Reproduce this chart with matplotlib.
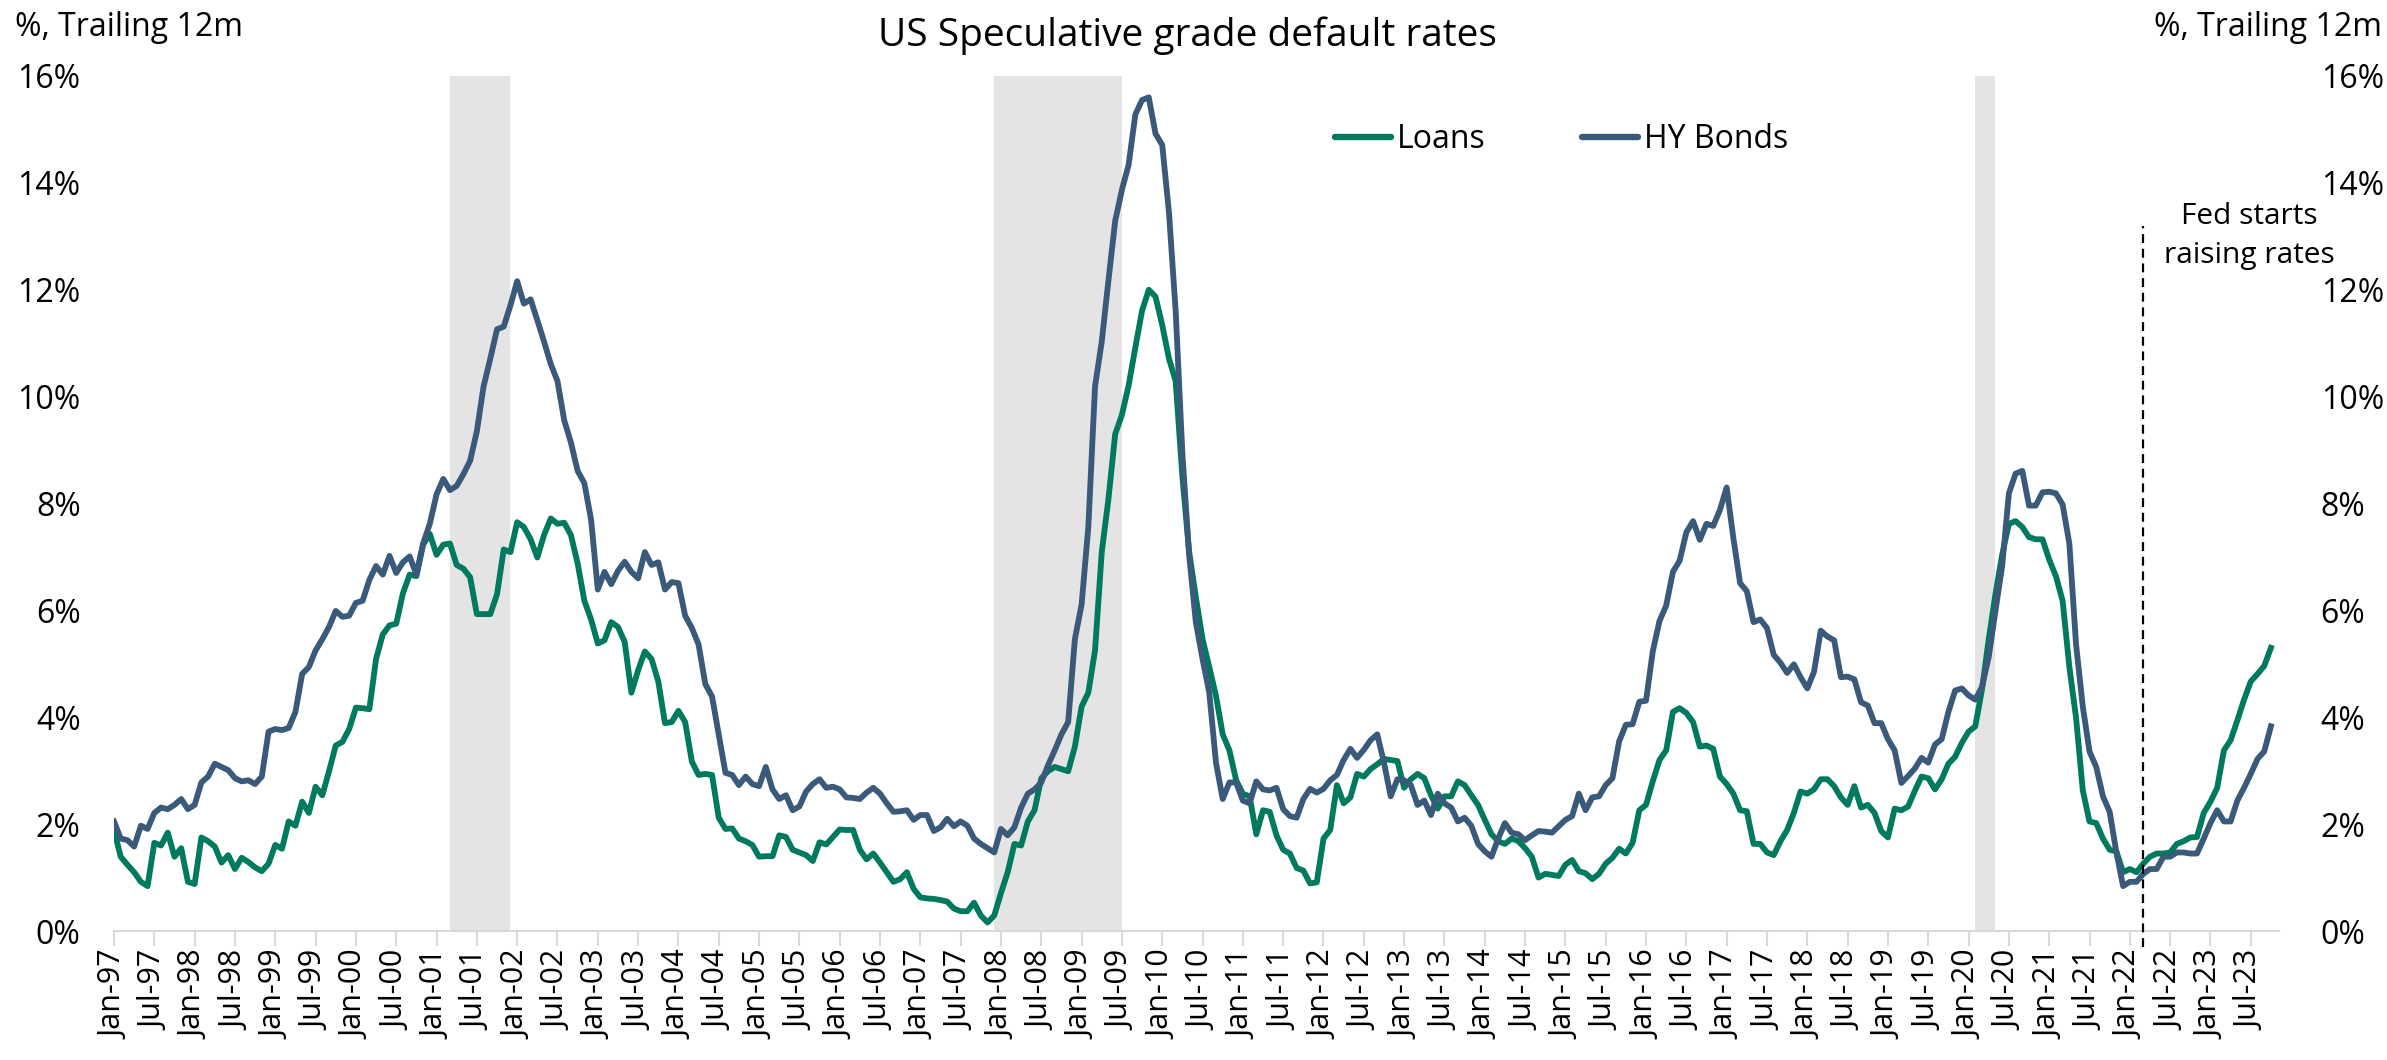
import matplotlib
matplotlib.use("Agg")
import matplotlib.pyplot as plt
import pandas as pd

plt.rcParams['font.family'] = ['Open Sans', 'DejaVu Sans']

# monthly data, Jan-97 onwards (%, trailing 12m)
start_month = "1997-01-01"

hy_bonds = [
    2.05, 1.73, 1.70, 1.58, 1.97, 1.91, 2.21, 2.31, 2.28, 2.36, 2.47, 2.28,
    2.36, 2.78, 2.89, 3.13, 3.07, 3.01, 2.86, 2.80, 2.82, 2.75, 2.89, 3.73,
    3.78, 3.76, 3.80, 4.10, 4.81, 4.94, 5.25, 5.46, 5.69, 5.99, 5.88, 5.90,
    6.14, 6.18, 6.57, 6.83, 6.67, 7.02, 6.70, 6.90, 7.01, 6.67, 7.25, 7.62,
    8.17, 8.46, 8.25, 8.33, 8.55, 8.80, 9.35, 10.19, 10.71, 11.26, 11.31, 11.71,
    12.16, 11.74, 11.82, 11.43, 11.03, 10.61, 10.29, 9.56, 9.14, 8.61, 8.38, 7.70,
    6.39, 6.72, 6.49, 6.74, 6.91, 6.72, 6.60, 7.09, 6.85, 6.90, 6.39, 6.53,
    6.51, 5.90, 5.67, 5.36, 4.62, 4.39, 3.68, 2.96, 2.92, 2.73, 2.89, 2.75,
    2.71, 3.07, 2.65, 2.47, 2.54, 2.26, 2.33, 2.61, 2.75, 2.84, 2.68, 2.70,
    2.65, 2.50, 2.49, 2.47, 2.59, 2.68, 2.57, 2.39, 2.23, 2.24, 2.26, 2.08,
    2.17, 2.17, 1.87, 1.94, 2.10, 1.96, 2.05, 1.97, 1.73, 1.63, 1.55, 1.47,
    1.91, 1.79, 1.94, 2.31, 2.57, 2.65, 2.78, 3.10, 3.38, 3.68, 3.91, 5.46,
    6.11, 7.56, 10.19, 11.03, 12.18, 13.29, 13.87, 14.34, 15.28, 15.55, 15.60, 14.92,
    14.71, 13.45, 11.60, 8.93, 7.04, 5.78, 5.09, 4.46, 3.15, 2.47, 2.78, 2.78,
    2.44, 2.39, 2.80, 2.65, 2.63, 2.68, 2.28, 2.15, 2.12, 2.47, 2.66, 2.59,
    2.66, 2.82, 2.92, 3.20, 3.41, 3.24, 3.39, 3.57, 3.68, 3.15, 2.52, 2.84,
    2.82, 2.73, 2.36, 2.44, 2.17, 2.57, 2.39, 2.31, 2.05, 2.12, 1.97, 1.63,
    1.49, 1.39, 1.73, 2.02, 1.84, 1.81, 1.70, 1.79, 1.87, 1.86, 1.84, 1.96,
    2.08, 2.15, 2.57, 2.26, 2.50, 2.52, 2.73, 2.86, 3.55, 3.86, 3.87, 4.29,
    4.31, 5.23, 5.80, 6.09, 6.72, 6.93, 7.46, 7.67, 7.32, 7.62, 7.58, 7.88,
    8.30, 7.35, 6.51, 6.36, 5.78, 5.83, 5.67, 5.17, 5.02, 4.83, 4.99, 4.75,
    4.54, 4.85, 5.62, 5.51, 5.44, 4.75, 4.76, 4.71, 4.28, 4.22, 3.89, 3.89,
    3.59, 3.38, 2.77, 2.90, 3.04, 3.24, 3.15, 3.49, 3.59, 4.10, 4.50, 4.54,
    4.41, 4.33, 4.57, 5.13, 5.99, 6.83, 8.19, 8.56, 8.61, 7.96, 7.96, 8.21,
    8.22, 8.19, 7.98, 7.25, 5.36, 4.20, 3.36, 3.07, 2.52, 2.23, 1.47, 0.84,
    0.92, 0.92, 1.07, 1.16, 1.16, 1.39, 1.39, 1.47, 1.47, 1.45, 1.45, 1.73,
    2.02, 2.26, 2.05, 2.05, 2.44, 2.68, 2.94, 3.22, 3.36, 3.83,
]

loans = [
    1.89, 1.39, 1.24, 1.10, 0.92, 0.84, 1.65, 1.60, 1.84, 1.39, 1.55, 0.92,
    0.88, 1.75, 1.68, 1.58, 1.28, 1.42, 1.16, 1.37, 1.29, 1.19, 1.12, 1.26,
    1.61, 1.54, 2.05, 1.97, 2.42, 2.21, 2.70, 2.54, 2.99, 3.47, 3.54, 3.78,
    4.18, 4.17, 4.15, 5.09, 5.55, 5.72, 5.75, 6.32, 6.67, 6.64, 7.23, 7.43,
    7.04, 7.23, 7.25, 6.85, 6.78, 6.62, 5.93, 5.93, 5.93, 6.30, 7.14, 7.09,
    7.65, 7.56, 7.33, 6.99, 7.41, 7.72, 7.62, 7.64, 7.41, 6.88, 6.18, 5.83,
    5.38, 5.44, 5.78, 5.69, 5.41, 4.46, 4.88, 5.23, 5.09, 4.67, 3.89, 3.91,
    4.12, 3.91, 3.17, 2.92, 2.94, 2.92, 2.12, 1.91, 1.92, 1.73, 1.68, 1.61,
    1.39, 1.40, 1.40, 1.79, 1.76, 1.52, 1.47, 1.42, 1.31, 1.66, 1.62, 1.76,
    1.90, 1.89, 1.89, 1.52, 1.34, 1.45, 1.28, 1.10, 0.92, 0.97, 1.10, 0.79,
    0.63, 0.61, 0.60, 0.58, 0.55, 0.42, 0.37, 0.37, 0.53, 0.29, 0.16, 0.29,
    0.71, 1.10, 1.63, 1.60, 2.05, 2.26, 2.86, 2.99, 3.07, 3.03, 2.99, 3.45,
    4.20, 4.46, 5.25, 7.09, 8.09, 9.30, 9.66, 10.21, 10.92, 11.61, 12.00, 11.87,
    11.34, 10.71, 10.29, 8.50, 7.10, 6.25, 5.46, 4.94, 4.40, 3.68, 3.38, 2.82,
    2.57, 2.52, 1.81, 2.26, 2.23, 1.79, 1.52, 1.45, 1.18, 1.13, 0.89, 0.91,
    1.73, 1.89, 2.73, 2.39, 2.50, 2.94, 2.89, 3.03, 3.12, 3.22, 3.20, 3.18,
    2.68, 2.84, 2.94, 2.86, 2.54, 2.29, 2.52, 2.52, 2.80, 2.73, 2.54, 2.36,
    2.08, 1.81, 1.68, 1.63, 1.73, 1.68, 1.55, 1.39, 1.00, 1.07, 1.05, 1.03,
    1.24, 1.33, 1.12, 1.08, 0.97, 1.07, 1.26, 1.37, 1.54, 1.45, 1.65, 2.26,
    2.36, 2.80, 3.20, 3.38, 4.10, 4.17, 4.08, 3.91, 3.45, 3.47, 3.41, 2.89,
    2.75, 2.57, 2.26, 2.24, 1.63, 1.63, 1.47, 1.42, 1.68, 1.89, 2.21, 2.61,
    2.57, 2.65, 2.84, 2.84, 2.71, 2.50, 2.36, 2.71, 2.31, 2.36, 2.21, 1.87,
    1.75, 2.29, 2.26, 2.33, 2.62, 2.89, 2.86, 2.65, 2.84, 3.13, 3.26, 3.52,
    3.73, 3.83, 4.52, 5.46, 6.30, 7.04, 7.62, 7.67, 7.56, 7.37, 7.33, 7.33,
    6.95, 6.64, 6.18, 4.94, 3.99, 2.63, 2.05, 2.02, 1.73, 1.52, 1.49, 1.10,
    1.16, 1.10, 1.26, 1.39, 1.45, 1.45, 1.47, 1.63, 1.68, 1.75, 1.76, 2.21,
    2.42, 2.68, 3.38, 3.57, 3.94, 4.33, 4.67, 4.81, 4.96, 5.30,
]

# recessions (first month, last month)
recessions = [("2001-03", "2001-11"), ("2007-12", "2009-06"), ("2020-02", "2020-04")]
fed_hike = "2022-03"
fed_text = "Fed starts\nraising rates"

title = "US Speculative grade default rates"
unit_label = "%, Trailing 12m"

loans_color = "#007A5E"
hy_color = "#3A5A7B"
band_color = "#E4E4E4"

dates = pd.date_range(start_month, periods=len(hy_bonds), freq="MS")
x = list(range(len(dates)))


def month_idx(s):
    d = pd.Timestamp(s + "-01")
    return (d.year - dates[0].year) * 12 + d.month - dates[0].month


W, H = 2387, 1060
fig = plt.figure(figsize=(W / 100, H / 100), dpi=100)
ax = fig.add_axes([114 / W, 1 - 931 / H, (2279 - 114) / W, (931 - 76) / H])

for a, b in recessions:
    ax.axvspan(month_idx(a), month_idx(b) + 1, color=band_color, lw=0, zorder=0)

ax.plot(x, loans, color=loans_color, lw=4.2, label="Loans", zorder=3)
ax.plot(x, hy_bonds, color=hy_color, lw=4.2, label="HY Bonds", zorder=3)

fx = month_idx(fed_hike)
ax.vlines(fx, -0.3, 13.2, colors="black", lw=1.6, linestyles=(0, (4, 2.6)),
          clip_on=False, zorder=4)
ax.text(fx + 15.8, 13.0, fed_text, ha="center", va="center", fontsize=21.5,
        linespacing=1.45)

ax.set_xlim(0, len(x) + 0.2)
ax.set_ylim(0, 16)
ticks = x[::6]
ax.set_xticks(ticks)
ax.set_xticklabels([dates[i].strftime("%b-%y") for i in ticks], rotation=90,
                   fontsize=22)
ax.set_yticks(range(0, 17, 2))
ax.set_yticklabels([f"{v}%" for v in range(0, 17, 2)], fontsize=23)
ax.tick_params(axis="x", length=11, width=1.5, color="#D9D9D9", pad=3)
ax.tick_params(axis="y", length=0, pad=24)
for s in ["top", "left", "right"]:
    ax.spines[s].set_visible(False)
ax.spines["bottom"].set_color("#D9D9D9")
ax.spines["bottom"].set_linewidth(1.5)

ax2 = ax.twinx()
ax2.set_ylim(ax.get_ylim())
ax2.set_yticks(range(0, 17, 2))
ax2.set_yticklabels([f"{v}%" for v in range(0, 17, 2)], fontsize=23)
ax2.tick_params(axis="y", length=0, pad=30)
for s in ax2.spines.values():
    s.set_visible(False)

leg = fig.legend(loc="center left", bbox_to_anchor=(1335 / W, 1 - 140 / H),
                 ncol=2, frameon=False, fontsize=23, handlelength=1.75,
                 handletextpad=0.2, columnspacing=3.0, borderpad=0,
                 borderaxespad=0)
for line in leg.get_lines():
    line.set_linewidth(4.6)
    line.set_solid_capstyle("round")

fig.text(1187 / W, 1 - 36 / H, title, ha="center", va="center", fontsize=28)
fig.text(15 / W, 1 - 28 / H, unit_label, ha="left", va="center", fontsize=23)
fig.text(2382 / W, 1 - 28 / H, unit_label, ha="right", va="center", fontsize=23)

fig.savefig("out.png", dpi=100)
